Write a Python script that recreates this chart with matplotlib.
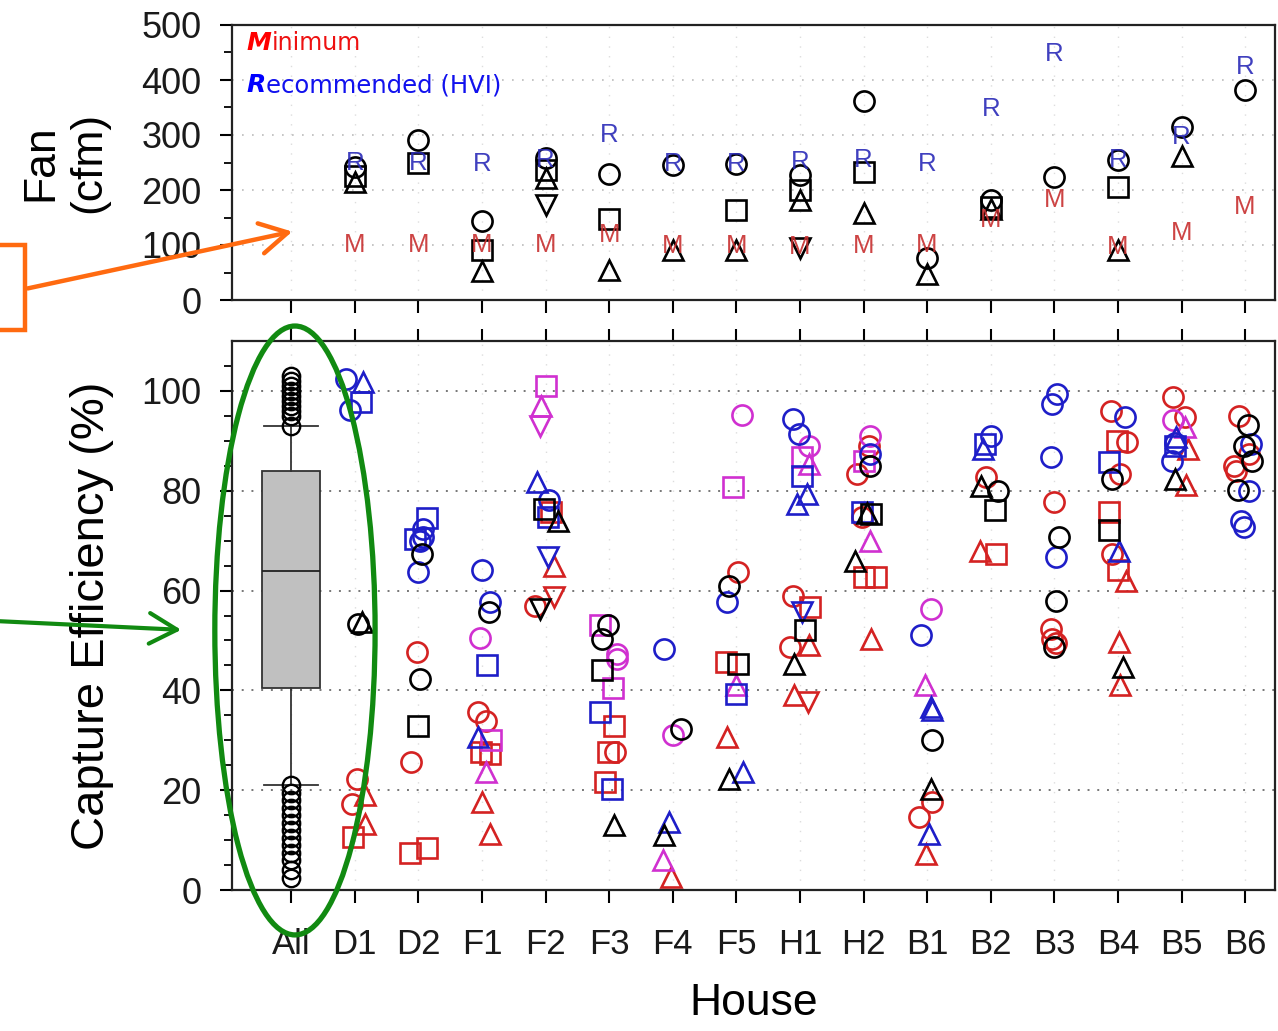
import matplotlib.pyplot as plt
import numpy as np
from matplotlib.patches import Ellipse, Rectangle, FancyArrowPatch

plt.rcParams['font.family'] = ['Liberation Sans', 'DejaVu Sans']

houses = ["All", "D1", "D2", "F1", "F2", "F3", "F4", "F5",
          "H1", "H2", "B1", "B2", "B3", "B4", "B5", "B6"]
fan_houses = houses[1:]
nan = np.nan

# ---- top panel: fan flow (cfm) ----
rec_cfm = [250, 250, 248, 255, 300, 248, 248, 251, 255, 248, 348, 448, 255, 297, 424]
min_cfm = [100, 100, 100, 100, 118, 98, 98, 97, 98, 100, 145, 182, 97, 121, 170]
fan_circle = [242, 291, 144, 258, 229, 246, 248, 227, 361, 76, 182, 224, 255, 315, 382]
fan_square = [226, 250, 91, 236, 148, nan, 164, 200, 233, nan, 170, nan, 206, nan, nan]
fan_tri = [214, nan, 52, 222, 55, 91, 91, 182, 158, 48, 165, nan, 91, 261, nan]
fan_tri_down = [nan, nan, nan, 172, nan, nan, nan, 94, nan, nan, nan, nan, nan, nan, nan]

# ---- bottom panel: capture efficiency (%) ----
# boxplot of all values
box_stats = dict(med=64, q1=40.5, q3=84, whislo=21, whishi=93,
                 fliers=[93, 95, 96, 97, 98, 99, 100, 101, 102, 103,
                         21, 19.5, 18, 16.5, 15, 13.5, 12, 10.5, 9, 7.5, 6, 4, 2.5])

# (house, value) pairs per colour/marker, with the small sideways jitter
k_o = [("D1", 53.3), ("D2", 67.3), ("D2", 42.2), ("F1", 55.7), ("F3", 53), ("F3", 50.3),
       ("F4", 32.3), ("F5", 61), ("H2", 85), ("B1", 30), ("B2", 80), ("B3", 70.8),
       ("B3", 58), ("B3", 48.7), ("B4", 82.3), ("B6", 93.2), ("B6", 89), ("B6", 86), ("B6", 80.1)]
k_o_dx = [0.05, 0.06, 0.03, 0.11, -0.01, -0.11, 0.13, -0.11, 0.1, 0.08, 0.11, 0.08,
          0.03, 0.0, -0.1, 0.04, -0.02, 0.11, -0.11]
k_s = [("D2", 32.8), ("F2", 76.3), ("F3", 44), ("F5", 45.2), ("H1", 52), ("H2", 75.3),
       ("B2", 76.1), ("B4", 72.1)]
k_s_dx = [0.0, -0.02, -0.11, 0.02, 0.08, 0.11, 0.06, -0.14]
k_t = [("D1", 53.7), ("F2", 74), ("F3", 13), ("F4", 11), ("F5", 22.3), ("H1", 45.3),
       ("H2", 75.5), ("H2", 66), ("B1", 20.3), ("B2", 81), ("B4", 44.7), ("B5", 82.3)]
k_t_dx = [0.11, 0.19, 0.07, -0.14, -0.12, -0.09, 0.05, -0.13, 0.06, -0.15, 0.08, -0.11]
k_v = [("F2", 56.3)]
k_v_dx = [-0.09]

b_o = [("D1", 102.4), ("D1", 96.2), ("D2", 72.3), ("D2", 70.7), ("D2", 70), ("D2", 63.7),
       ("F1", 64.1), ("F1", 57.7), ("F2", 78.1), ("F4", 48.3), ("F5", 57.7), ("H1", 94.3),
       ("H1", 91.3), ("H2", 87.3), ("B1", 51), ("B2", 91), ("B3", 99.3), ("B3", 97.3),
       ("B3", 86.8), ("B3", 66.7), ("B4", 94.8), ("B5", 89.5), ("B5", 86), ("B6", 89.3),
       ("B6", 79.9), ("B6", 74), ("B6", 72.7)]
b_o_dx = [-0.13, -0.08, 0.07, 0.08, 0.03, 0.0, 0.0, 0.13, 0.06, -0.14, -0.14, -0.11,
          -0.01, 0.1, -0.1, 0.01, 0.04, -0.04, -0.05, 0.02, 0.11, -0.1, -0.15, 0.09,
          0.06, -0.07, -0.02]
b_s = [("D1", 97.7), ("D2", 74.5), ("D2", 70.4), ("F1", 45), ("F2", 74.7), ("F3", 35.7),
       ("F3", 20.3), ("F5", 39.3), ("H1", 83), ("H2", 75.7), ("B2", 89.3), ("B4", 85.7),
       ("B5", 89)]
b_s_dx = [0.1, 0.13, -0.05, 0.08, 0.04, -0.14, 0.04, 0.0, 0.03, -0.02, -0.09, -0.14, -0.1]
b_t = [("D1", 101.7), ("F1", 30.7), ("F2", 81.7), ("F4", 13.7), ("F5", 23.7), ("H1", 79.3),
       ("H1", 77.3), ("B1", 36.7), ("B1", 36), ("B1", 11.3), ("B2", 88.3), ("B4", 68),
       ("B5", 90.7)]
b_t_dx = [0.13, -0.06, -0.14, -0.06, 0.1, 0.11, -0.05, 0.06, 0.08, 0.03, -0.12, 0.02, -0.09]
b_v = [("F2", 66.7), ("H1", 55.7)]
b_v_dx = [0.04, 0.03]

r_o = [("D1", 22.3), ("D1", 17.3), ("D2", 47.7), ("D2", 25.7), ("F1", 35.7), ("F1", 33.9),
       ("F2", 57), ("F3", 27.7), ("F5", 63.7), ("H1", 59), ("H1", 48.7), ("H2", 89),
       ("H2", 83.3), ("H2", 74.7), ("B1", 17.7), ("B1", 14.7), ("B2", 82.7), ("B3", 77.7),
       ("B3", 52.3), ("B3", 50.3), ("B3", 49.5), ("B4", 96), ("B4", 89.7), ("B4", 83.3),
       ("B4", 67.3), ("B5", 98.7), ("B5", 94.7), ("B6", 95), ("B6", 87.3), ("B6", 85),
       ("B6", 84)]
r_o_dx = [0.03, -0.05, -0.02, -0.11, -0.06, 0.07, -0.17, 0.09, 0.02, -0.11, -0.16, 0.08,
          -0.1, -0.02, 0.07, -0.13, -0.07, 0.0, -0.05, -0.03, 0.02, -0.11, 0.15, 0.04,
          -0.09, -0.13, 0.05, -0.09, 0.06, -0.17, -0.15]
r_s = [("D1", 10.7), ("D2", 7.5), ("D2", 8.5), ("F1", 27.7), ("F1", 27.3), ("F2", 75.7),
       ("F3", 32.8), ("F3", 27.7), ("F3", 21.7), ("F5", 45.7), ("H1", 56.7), ("H2", 62.7),
       ("H2", 62.7), ("B2", 67.3), ("B4", 90), ("B4", 75.7), ("B4", 64.1)]
r_s_dx = [-0.03, -0.13, 0.13, -0.02, 0.13, 0.09, 0.07, -0.01, -0.06, -0.16, 0.16, 0.0,
          0.19, 0.09, -0.01, -0.14, 0.0]
r_t = [("D1", 19), ("D1", 13.3), ("F1", 17.7), ("F1", 11.3), ("F2", 65), ("F4", 2.7),
       ("F5", 30.7), ("H1", 49), ("H1", 39), ("H2", 50.3), ("B1", 7.3), ("B2", 68),
       ("B4", 62), ("B4", 49.7), ("B4", 41), ("B5", 88.3), ("B5", 81.2)]
r_t_dx = [0.16, 0.16, 0.0, 0.13, 0.14, -0.03, -0.14, 0.15, -0.09, 0.11, -0.02, -0.17,
          0.13, 0.02, 0.03, 0.1, 0.07]
r_v = [("F2", 58.7), ("H1", 37.7)]
r_v_dx = [0.14, 0.13]

m_o = [("F1", 50.5), ("F3", 47.3), ("F3", 46.3), ("F4", 31), ("F5", 95.1), ("H1", 89),
       ("H2", 91), ("B1", 56.3), ("B5", 94.1)]
m_o_dx = [-0.03, 0.12, 0.13, 0.0, 0.09, 0.15, 0.1, 0.06, -0.14]
m_s = [("F1", 30), ("F2", 101), ("F3", 53), ("F3", 40.5), ("F5", 80.7), ("H1", 86.8),
       ("H2", 86)]
m_s_dx = [0.15, 0.01, -0.14, 0.06, -0.06, 0.03, 0.0]
m_t = [("F1", 23.7), ("F2", 97), ("F4", 6), ("F5", 41), ("H1", 85.3), ("H2", 70),
       ("B1", 41), ("B5", 92.7)]
m_t_dx = [0.06, -0.07, -0.15, 0.0, 0.15, 0.1, -0.03, 0.05]
m_v = [("F2", 93)]
m_v_dx = [-0.09]

BLACK, BLUE, RED, MAG = "black", "#1e1ec8", "#d42222", "#d030d0"

series = [
    (r_o, r_o_dx, RED, "o"), (r_s, r_s_dx, RED, "s"), (r_t, r_t_dx, RED, "^"), (r_v, r_v_dx, RED, "v"),
    (m_o, m_o_dx, MAG, "o"), (m_s, m_s_dx, MAG, "s"), (m_t, m_t_dx, MAG, "^"), (m_v, m_v_dx, MAG, "v"),
    (b_o, b_o_dx, BLUE, "o"), (b_s, b_s_dx, BLUE, "s"), (b_t, b_t_dx, BLUE, "^"), (b_v, b_v_dx, BLUE, "v"),
    (k_o, k_o_dx, BLACK, "o"), (k_s, k_s_dx, BLACK, "s"), (k_t, k_t_dx, BLACK, "^"), (k_v, k_v_dx, BLACK, "v"),
]

pos = {h: i for i, h in enumerate(houses)}

W, H = 1278, 1031
fig = plt.figure(figsize=(W / 100, H / 100), dpi=100)
ax1 = fig.add_axes([232 / W, 1 - 300 / H, 1043 / W, 275 / H])
ax2 = fig.add_axes([232 / W, 1 - 890 / H, 1043 / W, 549 / H])

x_all = np.arange(len(houses))
xlim = (-0.93, 15.47)

# ---- top panel ----
xf = np.array([pos[h] for h in fan_houses])
mk = dict(linestyle="none", ms=14.5, mfc="none", mec="black", mew=1.9)
ax1.plot(xf, fan_circle, marker="o", **mk)
ax1.plot(xf, fan_square, marker="s", **mk)
ax1.plot(xf, fan_tri, marker="^", **mk)
ax1.plot(xf, fan_tri_down, marker="v", **mk)
for x, r, m in zip(xf, rec_cfm, min_cfm):
    ax1.text(x, r, "R", color="#2b2bb8", fontsize=18.5, ha="center", va="center", alpha=0.9)
    ax1.text(x, m, "M", color="#c83030", fontsize=18.5, ha="center", va="center", alpha=0.9)

# ---- bottom panel ----
ax2.bxp([box_stats], positions=[0], widths=0.92, capwidths=0.85, patch_artist=True,
        manage_ticks=False,
        boxprops=dict(facecolor="#c0c0c0", edgecolor="#333333", lw=1.3),
        medianprops=dict(color="#222222", lw=1.3),
        whiskerprops=dict(color="#333333", lw=1.3),
        capprops=dict(color="#333333", lw=1.3),
        flierprops=dict(marker="o", ms=12.5, mfc="none", mec="black", mew=1.7))

for pairs, dx, color, marker in series:
    x = [pos[h] + d for (h, v), d in zip(pairs, dx)]
    y = [v for h, v in pairs]
    ax2.plot(x, y, linestyle="none", marker=marker, ms=14.5, mfc="none", mec=color, mew=1.9)

for ax in (ax1, ax2):
    ax.set_xlim(*xlim)
    ax.set_xticks(x_all)
    for s in ax.spines.values():
        s.set_linewidth(1.6)
        s.set_color("#222222")
    ax.tick_params(axis="both", which="major", direction="out", length=9, width=1.5,
                   pad=13, labelcolor="#1a1a1a")
    ax.tick_params(axis="y", labelsize=26)
    ax.tick_params(axis="x", labelsize=25, pad=18)
    ax.tick_params(axis="y", which="minor", direction="out", length=6, width=1.3)
    ax.set_axisbelow(True)

ax1.set_ylim(0, 500)
ax1.set_yticks([0, 100, 200, 300, 400, 500])
ax1.set_yticks(np.arange(50, 500, 100), minor=True)
ax1.tick_params(axis="x", labelbottom=False)
ax1.yaxis.grid(True, linestyle=(0, (1, 5)), color="#bbbbbb", lw=1.2)
ax1.xaxis.grid(True, linestyle=(0, (1, 6)), color="#dddddd", lw=1.0)
ax1.set_ylabel("Fan\n(cfm)", fontsize=32, linespacing=1.2, labelpad=23)

t1 = ax1.text(0.014, 0.935, "M", transform=ax1.transAxes, color="#ff0000", fontsize=18,
              fontweight="bold", fontstyle="italic", va="center", ha="left",
              family="DejaVu Sans")
ax1.annotate("inimum", xy=(1, 0), xycoords=t1, va="bottom", ha="left", color="#ee1111",
             fontsize=17, family="DejaVu Sans")
t2 = ax1.text(0.014, 0.78, "R", transform=ax1.transAxes, color="#0000ff", fontsize=18,
              fontweight="bold", fontstyle="italic", va="center", ha="left",
              family="DejaVu Sans")
ax1.annotate("ecommended (HVI)", xy=(1, 0), xycoords=t2, va="bottom", ha="left",
             color="#1111ee", fontsize=17.5, family="DejaVu Sans")

ax2.set_ylim(0, 110)
ax2.set_yticks([0, 20, 40, 60, 80, 100])
ax2.set_yticks(np.arange(5, 110, 5), minor=True)
ax2.set_xticklabels(houses)
ax2.tick_params(axis="x", top=True)
ax2.yaxis.grid(True, linestyle=(0, (1, 4)), color="#777777", lw=1.4)
ax2.xaxis.grid(True, linestyle=(0, (1, 6)), color="#dddddd", lw=1.0)
ax2.set_ylabel("Capture Efficiency (%)", fontsize=34, labelpad=20)
ax2.set_xlabel("House", fontsize=32, labelpad=16)

# ---- annotations ----
ell = Ellipse((0.06, 52), width=2.52, height=122, fill=False, edgecolor="#118a11", lw=3.8,
              clip_on=False, zorder=5)
ax2.add_patch(ell)


def fpx(x, y):
    return (x / W, 1 - y / H)


box = Rectangle(fpx(-20, 330), 45 / W, 85 / H, transform=fig.transFigure, fill=False,
                edgecolor="#ff6a10", lw=3.2)
fig.patches.append(box)
fig.patches.append(FancyArrowPatch(fpx(25, 289), fpx(295, 231), transform=fig.transFigure,
                                   arrowstyle="->,head_length=0.9,head_width=0.5",
                                   mutation_scale=22, color="#ff6a10", lw=3.2))
fig.patches.append(FancyArrowPatch(fpx(-5, 621), fpx(184, 630), transform=fig.transFigure,
                                   arrowstyle="->,head_length=0.9,head_width=0.5",
                                   mutation_scale=22, color="#118a11", lw=3.0))

fig.savefig("out.png", dpi=100)
